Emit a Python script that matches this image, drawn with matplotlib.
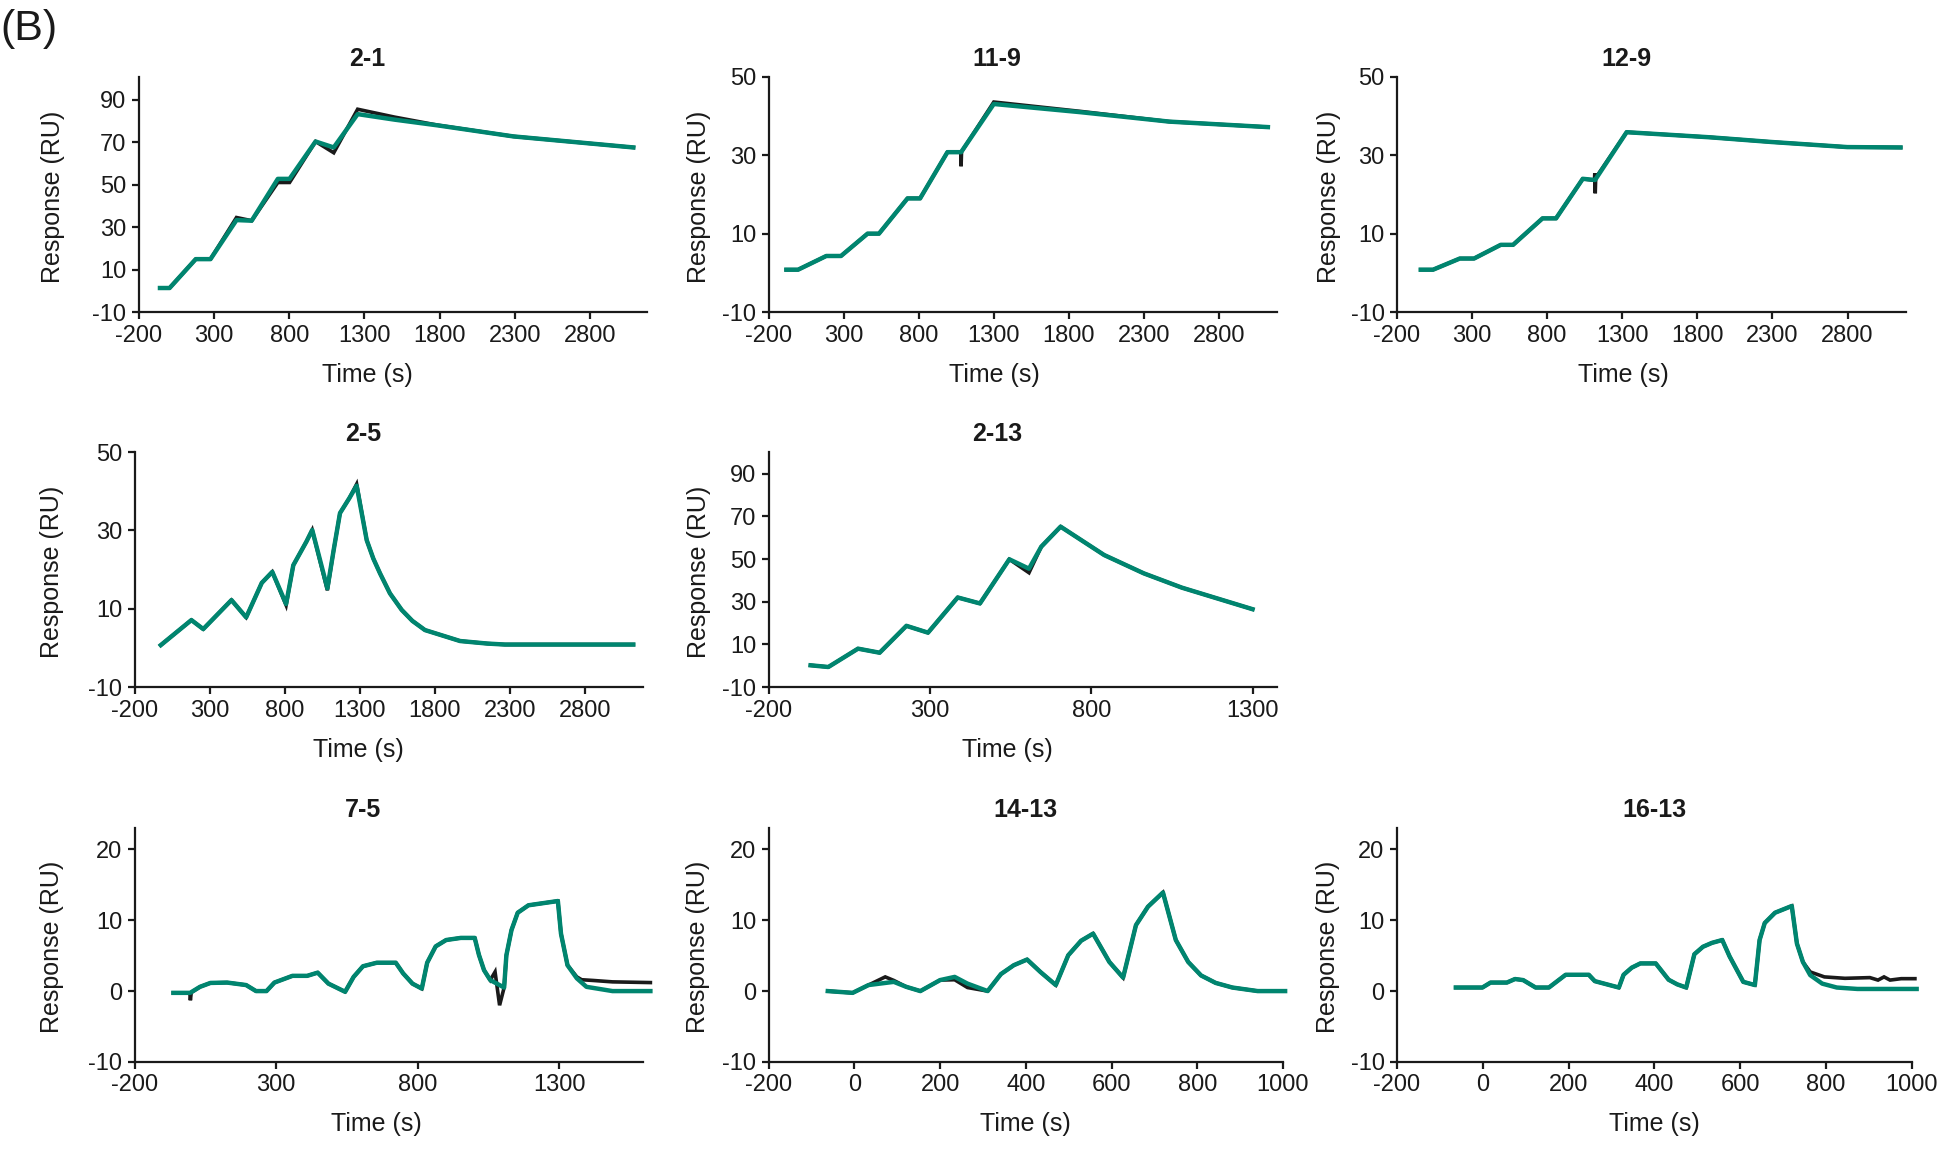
import matplotlib
matplotlib.use('Agg')
import matplotlib.pyplot as plt

plt.rcParams['font.family'] = ['Liberation Sans', 'DejaVu Sans']
plt.rcParams['axes.unicode_minus'] = False

FIT_COLOR = '#00856F'
DATA_COLOR = '#1a1a1a'

# ---- 2-1 ----
t_fit_21 = [-60, 4, 178, 276, 449, 550, 724, 802, 975, 1096, 1255, 1500, 1787, 2291, 3089]
fit_21 = [1.3, 1.3, 14.9, 14.9, 33.3, 33.0, 52.7, 52.7, 70.3, 67.5, 83.2, 80.6, 77.9, 72.7, 67.5]
t_dat_21 = [-60, 4, 178, 276, 449, 550, 724, 802, 975, 1096, 1255, 1500, 1787, 2291, 3089]
dat_21 = [1.3, 1.3, 14.9, 14.9, 34.5, 33.0, 51.0, 51.0, 70.3, 65.0, 85.5, 81.8, 78.0, 72.7, 67.5]

# ---- 11-9 ----
t_fit_119 = [-82, -4, 184, 282, 459, 535, 725, 809, 991, 1082, 1300, 1880, 2469, 3126]
fit_119 = [0.8, 0.8, 4.3, 4.3, 10.0, 10.0, 19.0, 19.0, 30.8, 30.8, 43.1, 41.0, 38.6, 37.2]
t_dat_119 = [-82, -4, 184, 282, 459, 535, 725, 809, 991, 1080, 1082, 1085, 1300, 1880, 2469, 3126]
dat_119 = [0.8, 0.8, 4.3, 4.3, 10.0, 10.0, 19.0, 19.0, 30.8, 30.8, 27.2, 30.9, 43.6, 41.2, 38.6, 37.2]

# ---- 12-9 ----
t_fit_129 = [-42, 40, 218, 313, 491, 573, 769, 859, 1037, 1119, 1329, 1883, 2293, 2798, 3153]
fit_129 = [0.8, 0.8, 3.65, 3.65, 7.15, 7.15, 13.9, 13.9, 24.0, 23.7, 35.9, 34.6, 33.4, 32.1, 32.0]
t_dat_129 = [-42, 40, 218, 313, 491, 573, 769, 859, 1037, 1115, 1117, 1120, 1123, 1329, 1883, 2293, 2798, 3153]
dat_129 = [0.8, 0.8, 3.65, 3.65, 7.15, 7.15, 13.9, 13.9, 24.0, 23.6, 25.4, 20.3, 24.2, 35.9, 34.6, 33.4, 32.1, 32.0]

# ---- 2-5 ----
t_fit_25 = [-26, 178, 257, 445, 543, 647, 717, 809, 857, 944, 983, 1084, 1126, 1168, 1230, 1279,
            1346, 1390, 1435, 1501, 1579, 1650, 1734, 1968, 2150, 2267, 3122]
fit_25 = [0.7, 7.1, 4.8, 12.2, 7.8, 16.6, 19.4, 11.2, 21.1, 27.1, 30.1, 15.2, 25.0, 34.4, 38.2, 41.4,
          27.5, 22.8, 19.0, 13.9, 9.7, 6.9, 4.55, 1.75, 1.1, 0.85, 0.85]
t_dat_25 = t_fit_25
dat_25 = [0.7, 7.1, 4.8, 12.2, 7.8, 16.6, 19.4, 10.9, 21.1, 27.1, 30.1, 14.7, 25.0, 34.4, 38.2, 41.8,
          27.5, 22.8, 19.0, 13.9, 9.7, 6.9, 4.55, 1.75, 1.1, 0.85, 0.85]

# ---- 2-13 ----
t_fit_213 = [-70, -15, 77, 144, 227, 294, 386, 455, 546, 607, 645, 705, 840, 963, 1081, 1300]
fit_213 = [0.2, -0.6, 8.0, 6.1, 18.7, 15.5, 32.0, 29.2, 49.9, 45.5, 55.8, 65.2, 51.9, 43.3, 36.6, 26.5]
t_dat_213 = t_fit_213
dat_213 = [0.2, -0.6, 8.0, 6.1, 18.7, 15.5, 32.0, 29.2, 49.9, 43.6, 55.8, 65.2, 51.9, 43.3, 36.6, 26.5]

# ---- 7-5 ----
t_fit_75 = [-63, -4, 31, 68, 127, 194, 229, 266, 294, 358, 410, 447, 485, 544, 574, 607, 656, 723, 749,
            782, 815, 834, 864, 901, 953, 1002, 1017, 1035, 1057, 1106, 1114, 1132, 1154, 1192, 1296,
            1307, 1330, 1363, 1397, 1489, 1623]
fit_75 = [-0.25, -0.25, 0.6, 1.15, 1.2, 0.85, 0.0, 0.0, 1.2, 2.15, 2.15, 2.6, 1.05, -0.1, 2.0, 3.5, 4.0,
          4.0, 2.5, 1.05, 0.35, 4.0, 6.3, 7.2, 7.5, 7.5, 5.1, 2.95, 1.55, 0.5, 5.05, 8.6, 11.05, 12.1,
          12.7, 8.1, 3.65, 1.8, 0.6, 0.0, 0.0]
t_dat_75 = [-63, -5, -3, 0, 31, 68, 127, 194, 229, 266, 294, 358, 410, 447, 485, 544, 574, 607, 656, 723,
            749, 782, 815, 834, 864, 901, 953, 1002, 1017, 1035, 1057, 1074, 1090, 1106, 1114, 1132, 1154,
            1192, 1296, 1307, 1330, 1363, 1380, 1420, 1489, 1623]
dat_75 = [-0.25, -0.25, -1.3, -0.2, 0.6, 1.15, 1.2, 0.85, 0.0, 0.0, 1.2, 2.15, 2.15, 2.6, 1.05, -0.1,
          2.0, 3.5, 4.0, 4.0, 2.5, 1.05, 0.35, 4.0, 6.3, 7.2, 7.5, 7.5, 5.1, 2.95, 1.55, 2.7, -2.0, 0.5,
          5.05, 8.6, 11.05, 12.1, 12.7, 8.1, 3.65, 2.0, 1.6, 1.5, 1.3, 1.2]

# ---- 14-13 ----
t_fit_1413 = [-62, -4, 33, 92, 121, 154, 200, 234, 264, 311, 342, 372, 403, 434, 470, 499, 529, 557,
              595, 627, 657, 685, 720, 750, 779, 809, 843, 882, 941, 1005]
fit_1413 = [0.0, -0.25, 0.85, 1.3, 0.6, 0.0, 1.55, 2.0, 1.05, 0.0, 2.4, 3.65, 4.45, 2.7, 0.85, 5.05,
            7.1, 8.1, 4.1, 1.9, 9.3, 11.9, 13.9, 7.2, 4.1, 2.2, 1.15, 0.5, 0.0, 0.0]
t_dat_1413 = [-62, -4, 33, 72, 92, 121, 154, 200, 234, 264, 311, 342, 372, 403, 434, 470, 499, 529,
              557, 595, 627, 657, 685, 720, 750, 779, 809, 843, 882, 941, 1005]
dat_1413 = [0.0, -0.25, 0.85, 2.0, 1.5, 0.6, 0.0, 1.55, 1.6, 0.5, 0.0, 2.4, 3.65, 4.45, 2.7, 0.85,
            5.05, 7.1, 8.1, 4.1, 1.9, 9.3, 11.9, 13.9, 7.2, 4.1, 2.2, 1.15, 0.5, 0.0, 0.0]

# ---- 16-13 ----
t_fit_1613 = [-63, -1, 18, 56, 75, 94, 123, 154, 193, 247, 261, 317, 328, 347, 367, 403, 433, 453, 474,
              493, 513, 534, 558, 575, 607, 634, 645, 657, 681, 720, 732, 746, 763, 791, 825, 873, 1011]
fit_1613 = [0.5, 0.5, 1.2, 1.2, 1.7, 1.55, 0.5, 0.5, 2.3, 2.3, 1.4, 0.5, 2.3, 3.3, 3.9, 3.9, 1.6, 0.95,
            0.5, 5.2, 6.25, 6.8, 7.2, 4.9, 1.3, 0.85, 7.2, 9.6, 11.05, 12.0, 6.7, 4.1, 2.25, 1.05, 0.5,
            0.3, 0.3]
t_dat_1613 = [-63, -1, 18, 56, 75, 94, 123, 154, 193, 247, 261, 317, 328, 347, 367, 403, 433, 453, 474,
              493, 513, 534, 558, 575, 607, 634, 645, 657, 681, 720, 732, 746, 763, 796, 844, 902, 921,
              935, 949, 975, 1007]
dat_1613 = [0.5, 0.5, 1.2, 1.2, 1.7, 1.55, 0.5, 0.5, 2.3, 2.3, 1.4, 0.5, 2.3, 3.3, 3.9, 3.9, 1.6, 0.95,
            0.5, 5.2, 6.25, 6.8, 7.2, 4.9, 1.3, 0.85, 7.2, 9.6, 11.05, 12.0, 6.7, 4.1, 2.7, 2.0, 1.8,
            1.9, 1.55, 2.0, 1.55, 1.75, 1.75]

titles = ['2-1', '11-9', '12-9', '2-5', '2-13', '7-5', '14-13', '16-13']
fits = [(t_fit_21, fit_21), (t_fit_119, fit_119), (t_fit_129, fit_129), (t_fit_25, fit_25),
        (t_fit_213, fit_213), (t_fit_75, fit_75), (t_fit_1413, fit_1413), (t_fit_1613, fit_1613)]
datas = [(t_dat_21, dat_21), (t_dat_119, dat_119), (t_dat_129, dat_129), (t_dat_25, dat_25),
         (t_dat_213, dat_213), (t_dat_75, dat_75), (t_dat_1413, dat_1413), (t_dat_1613, dat_1613)]

xt_long = [-200, 300, 800, 1300, 1800, 2300, 2800]
xt_mid = [-200, 300, 800, 1300]
xt_short = [-200, 0, 200, 400, 600, 800, 1000]
yt_100 = [-10, 10, 30, 50, 70, 90]
yt_50 = [-10, 10, 30, 50]
yt_20 = [-10, 0, 10, 20]

xlims = [(-200, 3180), (-200, 3185), (-200, 3190), (-200, 3185), (-200, 1375), (-200, 1596),
         (-200, 1000), (-200, 1000)]
xticks = [xt_long, xt_long, xt_long, xt_long, xt_mid, xt_mid, xt_short, xt_short]
ylims = [(-10, 100.7), (-10, 50), (-10, 50), (-10, 50), (-10, 100.2), (-10, 23), (-10, 23), (-10, 23)]
yticks = [yt_100, yt_50, yt_50, yt_50, yt_100, yt_20, yt_20, yt_20]

# axes rectangles (figure fraction)
rects = [
    [0.0715, 0.7308, 0.2615, 0.2028],
    [0.3956, 0.7308, 0.2615, 0.2028],
    [0.7190, 0.7308, 0.2620, 0.2028],
    [0.0693, 0.4072, 0.2615, 0.2028],
    [0.3956, 0.4072, 0.2615, 0.2028],
    [0.0693, 0.0837, 0.2615, 0.2019],
    [0.3956, 0.0837, 0.2647, 0.2019],
    [0.7190, 0.0837, 0.2650, 0.2019],
]
title_x = [0.45, 0.45, 0.45, 0.45, 0.45, 0.45, 0.5, 0.5]
xlabel_x = [0.45, 0.445, 0.445, 0.44, 0.47, 0.475, 0.5, 0.5]
ylabel_x = [-0.146, -0.114, -0.11, -0.14, -0.114, -0.14, -0.114, -0.11]

fig = plt.figure(figsize=(19.43, 11.59), dpi=100)

for i in range(8):
    ax = fig.add_axes(rects[i])
    td, vd = datas[i]
    tf, vf = fits[i]
    ax.plot(td, vd, color=DATA_COLOR, lw=2.6, solid_joinstyle='miter', clip_on=False, zorder=2)
    ax.plot(tf, vf, color=FIT_COLOR, lw=3.2, solid_joinstyle='round', clip_on=False, zorder=3)
    ax.set_xlim(*xlims[i])
    ax.set_ylim(*ylims[i])
    ax.set_xticks(xticks[i])
    ax.set_yticks(yticks[i])
    ax.spines['top'].set_visible(False)
    ax.spines['right'].set_visible(False)
    for s in ['left', 'bottom']:
        ax.spines[s].set_linewidth(1.6)
        ax.spines[s].set_color('#1a1a1a')
    ax.tick_params(axis='both', labelsize=17, length=5, width=1.6, pad=4, colors='#1a1a1a')
    ax.set_title(titles[i], fontsize=18, fontweight='bold', x=title_x[i], pad=8, color='#1a1a1a')
    ax.set_xlabel('Time (s)', fontsize=18, color='#1a1a1a')
    ax.set_ylabel('Response (RU)', fontsize=18, color='#1a1a1a')
    ax.xaxis.set_label_coords(xlabel_x[i], -0.215)
    ax.yaxis.set_label_coords(ylabel_x[i], 0.49)

fig.text(0.0, 0.992, '(B)', fontsize=31, ha='left', va='top', color='#1a1a1a')

fig.savefig('out.png', dpi=100)
